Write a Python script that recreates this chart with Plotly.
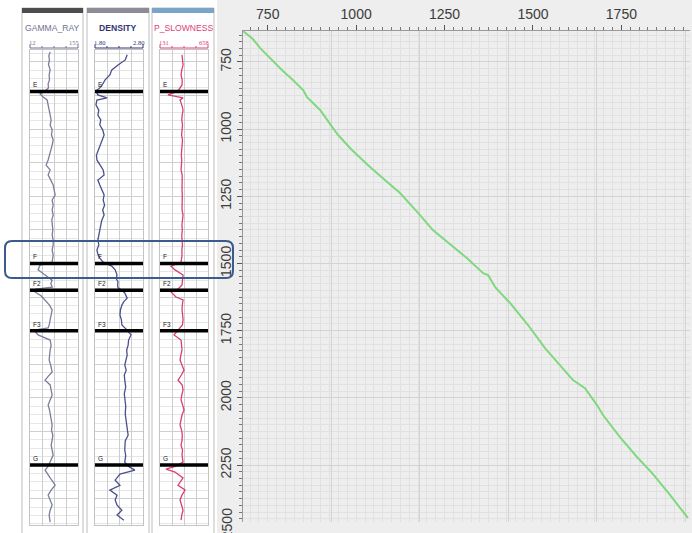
import plotly.graph_objects as go

W, H = 692, 533

# ---------------- data ----------------
# main curve (time vs depth)
curve_x = [680, 708, 728, 790, 821, 850, 861, 898, 932, 949, 988, 1033, 1082, 1124, 1175, 1217,
           1313, 1359, 1373, 1381, 1393, 1435, 1486, 1534, 1613, 1647, 1681, 1698, 1746, 1794,
           1837, 1888, 1938]
curve_y = [635, 665, 698, 780, 817, 855, 881, 929, 992, 1022, 1078, 1134, 1190, 1238, 1312, 1376,
           1480, 1536, 1543, 1562, 1588, 1647, 1729, 1815, 1934, 1964, 2027, 2064, 2146, 2220,
           2280, 2362, 2447]
x_range = [680, 1944]
y_range = [2462, 635]
extra_y_label = 2500

# logs
gr_depth = [713, 728, 743, 760, 780, 798, 817, 832, 847, 858, 869, 881, 892, 910, 929, 948, 966,
            985, 1003, 1022, 1041, 1060, 1078, 1097, 1115, 1134, 1152, 1171, 1190, 1208, 1227,
            1245, 1264, 1283, 1301, 1320, 1338, 1357, 1376, 1394, 1413, 1431, 1450, 1469, 1495,
            1506, 1524, 1543, 1562, 1575, 1588, 1595, 1606, 1620, 1636, 1655, 1673, 1692, 1710,
            1725, 1740, 1748, 1766, 1785, 1804, 1822, 1841, 1859, 1880, 1904, 1920, 1934, 1952,
            1971, 1990, 2008, 2027, 2045, 2064, 2083, 2101, 2120, 2139, 2157, 2176, 2194, 2213,
            2239, 2254, 2269, 2284, 2298, 2312, 2325, 2343, 2362, 2380, 2399, 2418, 2436, 2462]
gr_value = [72, 68, 70, 67, 72, 69, 70, 66, 67, 57, 42, 51, 63, 66, 69, 72, 75,
            72, 78, 76, 81, 78, 75, 70, 66, 60, 72, 66, 74, 81, 84,
            87, 78, 81, 78, 81, 77, 78, 80, 78, 81, 81, 78, 81, 78,
            42, 36, 57, 78, 74, 78, 30, 27, 45, 57, 70, 78, 74, 72,
            70, 66, 24, 36, 72, 75, 72, 70, 69, 74, 78, 66, 57, 72,
            75, 78, 72, 66, 70, 72, 75, 78, 76, 80, 78, 75, 78, 81,
            72, 66, 57, 66, 72, 80, 87, 75, 66, 72, 78, 72, 69, 72]

den_depth = [724, 743, 762, 780, 799, 817, 836, 847, 858, 873, 884, 892, 910, 930, 948, 966, 985,
             1003, 1022, 1041, 1060, 1078, 1097, 1115, 1134, 1152, 1171, 1190, 1208, 1227, 1245,
             1264, 1283, 1301, 1320, 1340, 1357, 1376, 1394, 1413, 1431, 1450, 1466, 1480,
             1495, 1510, 1524, 1543, 1556, 1569, 1580, 1591, 1595, 1610, 1629, 1642, 1655, 1673,
             1692, 1710, 1729, 1748, 1766, 1785, 1804, 1822, 1841, 1860, 1878, 1897, 1915, 1934,
             1960, 1985, 2008, 2030, 2060, 2083, 2110, 2139, 2160, 2194, 2215, 2239, 2254, 2269,
             2284, 2298, 2306, 2325, 2343, 2362, 2380, 2399, 2418, 2436, 2455]
den_value = [2.47, 2.43, 2.28, 2.15, 2.11, 2.01, 1.95, 1.90, 1.82, 1.86, 2.05, 1.84, 1.82, 1.88,
             1.86, 1.92, 1.90, 1.96, 1.99, 1.95, 1.90, 1.86, 1.83, 1.84, 1.90, 1.97, 1.99, 1.86,
             1.90, 1.95, 1.99, 1.97, 2.00, 1.96, 1.99, 1.94, 1.92, 1.90, 1.88, 1.86, 1.88, 1.84,
             1.86, 1.90, 1.97, 2.15, 2.22, 2.26, 2.24, 2.28, 2.27, 2.28, 2.32, 2.42, 2.47, 2.40,
             2.36, 2.33, 2.32, 2.35, 2.36, 2.47, 2.55, 2.50, 2.49, 2.46, 2.47, 2.44, 2.42, 2.45,
             2.41, 2.42, 2.44, 2.41, 2.42, 2.44, 2.43, 2.45, 2.46, 2.49, 2.43, 2.42, 2.44, 2.42,
             2.49, 2.63, 2.32, 2.25, 2.22, 2.32, 2.11, 2.26, 2.22, 2.26, 2.36, 2.26, 2.40]

ps_depth = [724, 743, 762, 780, 799, 818, 836, 858, 873, 884, 892, 910, 929, 948, 966, 985, 1003,
            1022, 1041, 1060, 1078, 1097, 1115, 1134, 1152, 1171, 1190, 1208, 1227, 1245, 1264,
            1283, 1301, 1320, 1340, 1357, 1376, 1394, 1413, 1431, 1450, 1469, 1495, 1510, 1524,
            1543, 1562, 1580, 1595, 1606, 1625, 1636, 1655, 1673, 1692, 1710, 1729, 1748, 1766,
            1785, 1804, 1822, 1841, 1859, 1878, 1897, 1915, 1934, 1952, 1971, 1990, 2008, 2027,
            2045, 2064, 2083, 2101, 2120, 2139, 2157, 2176, 2194, 2213, 2239, 2254, 2265, 2276,
            2298, 2312, 2325, 2343, 2362, 2380, 2399, 2418, 2436, 2455]
ps_value = [373, 380, 384, 370, 362, 375, 373, 329, 219, 384, 351, 370, 384, 375, 370, 378, 373,
            368, 378, 372, 373, 365, 370, 362, 362, 375, 373, 368, 373, 376, 373,
            369, 373, 384, 375, 372, 376, 370, 373, 378, 371, 373, 362, 252, 296,
            384, 378, 373, 329, 252, 307, 384, 376, 373, 380, 384, 377, 329, 285,
            362, 370, 373, 360, 351, 372, 395, 366, 329, 375, 384, 370, 362, 380,
            395, 372, 364, 351, 368, 376, 373, 362, 378, 373, 384, 307, 197, 296,
            384, 360, 329, 406, 372, 351, 368, 384, 370, 362]

track_names = ["GAMMA_RAY", "DENSITY", "P_SLOWNESS"]
track_min = [12, 1.80, 131]
track_max = [155, 2.80, 658]
track_min_label = ["12", "1.80", "131"]
track_max_label = ["155", "2.80", "658"]
track_y_range = [2473, 706]

tops_names = ["E", "F", "F2", "F3", "G"]
tops_depth = [860, 1500, 1600, 1750, 2250]

# ---------------- styling ----------------
def X(px):
    return px / W

def Y(py):
    return 1 - py / H

curve_colors = ["#7a7f99", "#4b4f8e", "#d8406e"]
title_colors = ["#6f7290", "#2f3573", "#e0407a"]
bar_colors = ["#4d4d4d", "#8c8c96", "#7aa5c8"]
panel_outer = [(22, 83), (87, 149), (152, 214)]
panel_inner = [(30, 78), (95, 143), (160, 208)]

fig = go.Figure()

# main curve
fig.add_trace(go.Scatter(x=curve_x, y=curve_y, mode="lines",
                         line=dict(color="#7fd87f", width=2), xaxis="x", yaxis="y",
                         hoverinfo="skip"))
# dummy for label axis
fig.add_trace(go.Scatter(x=[None], y=[None], xaxis="x2", yaxis="y", hoverinfo="skip"))

logs = [(gr_value, gr_depth), (den_value, den_depth), (ps_value, ps_depth)]
for i, (v, d) in enumerate(logs):
    n = i + 3
    fig.add_trace(go.Scatter(x=v, y=d, mode="lines",
                             line=dict(color=curve_colors[i], width=1.3),
                             xaxis=f"x{n}", yaxis=f"y{n}", hoverinfo="skip"))

shapes = []
annotations = []

# right grey region
shapes.append(dict(type="rect", xref="paper", yref="paper", x0=X(217), x1=X(692), y0=Y(533), y1=Y(0),
                   fillcolor="#eeeeee", line=dict(width=0), layer="below"))

layout = dict(
    width=W, height=H, margin=dict(l=0, r=0, t=0, b=0),
    paper_bgcolor="white", plot_bgcolor="rgba(0,0,0,0)", showlegend=False,
    xaxis=dict(domain=[X(243), X(690)], range=x_range, anchor="y", showticklabels=False,
               showgrid=True, tick0=680, dtick=250, gridcolor="#d3d3d3", gridwidth=1,
               minor=dict(dtick=25, showgrid=True, gridcolor="#e1e1e1"),
               zeroline=False, showline=False, ticks=""),
    xaxis2=dict(overlaying="x", side="top", anchor="y", range=x_range, tick0=0, dtick=250,
                ticks="outside", ticklen=5, tickcolor="#555555", showgrid=False, zeroline=False,
                minor=dict(dtick=25, ticks="outside", ticklen=3, tickcolor="#777777", showgrid=False),
                showline=True, linecolor="#999999",
                tickfont=dict(family="Liberation Sans", size=14, color="#3c3c3c")),
    yaxis=dict(domain=[Y(522), Y(31)], range=y_range, anchor="x", side="left", tick0=0, dtick=250,
               tickangle=-90, ticks="outside", ticklen=5, tickcolor="#555555",
               minor=dict(dtick=25, ticks="outside", ticklen=3, tickcolor="#777777",
                          showgrid=True, gridcolor="#e1e1e1"),
               showgrid=True, gridcolor="#d3d3d3", zeroline=False,
               showline=True, linecolor="#999999",
               tickfont=dict(family="Liberation Sans", size=14, color="#3c3c3c")),
)

for i in range(3):
    n = i + 3
    lo, hi = panel_inner[i]
    layout[f"xaxis{n}"] = dict(domain=[X(lo), X(hi)], range=[track_min[i], track_max[i]],
                               anchor=f"y{n}", showticklabels=False, ticks="",
                               tick0=track_min[i], dtick=(track_max[i] - track_min[i]) / 4,
                               showgrid=True, gridcolor="#cdcdcd", zeroline=False,
                               showline=True, mirror=True, linecolor="#c4c4c4")
    layout[f"yaxis{n}"] = dict(domain=[Y(525), Y(50)], range=track_y_range, anchor=f"x{n}",
                               showticklabels=False, ticks="", dtick=125,
                               showgrid=True, gridcolor="#cfcfcf", zeroline=False,
                               minor=dict(dtick=31.25, showgrid=True, gridcolor="#e6e6e6"),
                               showline=True, mirror=True, linecolor="#c4c4c4")
    # panel frame
    ox0, ox1 = panel_outer[i]
    shapes.append(dict(type="rect", xref="paper", yref="paper", x0=X(ox0), x1=X(ox1),
                       y0=Y(540), y1=Y(8), line=dict(color="#bdbdbd", width=1),
                       fillcolor="white", layer="below"))
    shapes.append(dict(type="rect", xref="paper", yref="paper", x0=X(ox0), x1=X(ox1),
                       y0=Y(13), y1=Y(8), line=dict(width=0), fillcolor=bar_colors[i]))
    # title
    annotations.append(dict(xref="paper", yref="paper", x=X((ox0 + ox1) / 2), y=Y(28),
                            text=f"<b>{track_names[i]}</b>" if i == 1 else track_names[i],
                            showarrow=False, xanchor="center", yanchor="middle",
                            font=dict(family="Liberation Sans", size=8.6, color=title_colors[i])))
    # scale labels
    annotations.append(dict(xref="paper", yref="paper", x=X(lo - 3), y=Y(42),
                            text=track_min_label[i], showarrow=False, xanchor="left",
                            yanchor="middle",
                            font=dict(family="Liberation Serif", size=6.5, color=title_colors[i])))
    annotations.append(dict(xref="paper", yref="paper", x=X(hi + 3), y=Y(42),
                            text=track_max_label[i], showarrow=False, xanchor="right",
                            yanchor="middle",
                            font=dict(family="Liberation Serif", size=6.5, color=title_colors[i])))
    # scale bracket
    shapes.append(dict(type="line", xref="paper", yref="paper", x0=X(lo), x1=X(hi),
                       y0=Y(48), y1=Y(48), line=dict(color=title_colors[i], width=1)))
    for k in range(5):
        fx = lo + (hi - lo) * k / 4
        top = 44.5 if k in (0, 4) else 46
        shapes.append(dict(type="line", xref="paper", yref="paper", x0=X(fx), x1=X(fx),
                           y0=Y(48), y1=Y(top), line=dict(color=title_colors[i], width=1)))
    # formation tops
    for name, dep in zip(tops_names, tops_depth):
        shapes.append(dict(type="line", xref=f"x{n} domain", yref=f"y{n}", x0=0, x1=1,
                           y0=dep, y1=dep, line=dict(color="black", width=3.5)))
        annotations.append(dict(xref=f"x{n} domain", yref=f"y{n}", x=0.02, y=dep,
                                text=name, showarrow=False, xanchor="left", yanchor="bottom",
                                yshift=1, font=dict(family="Liberation Sans", size=6.5,
                                                    color="#222222")))

# 2500 label partially visible below the plot
py_2500 = 31 + (extra_y_label - y_range[1]) / (y_range[0] - y_range[1]) * (522 - 31)
annotations.append(dict(xref="paper", yref="paper", x=X(227), y=Y(py_2500), text=str(extra_y_label),
                        textangle=-90, showarrow=False, xanchor="center", yanchor="middle",
                        yshift=8,
                        font=dict(family="Liberation Sans", size=14, color="#3c3c3c")))

# highlight rounded box
x0, x1, y0, y1, r = 5, 233, 241, 278, 7
path = (f"M {X(x0 + r)} {Y(y0)} L {X(x1 - r)} {Y(y0)} Q {X(x1)} {Y(y0)} {X(x1)} {Y(y0 + r)} "
        f"L {X(x1)} {Y(y1 - r)} Q {X(x1)} {Y(y1)} {X(x1 - r)} {Y(y1)} "
        f"L {X(x0 + r)} {Y(y1)} Q {X(x0)} {Y(y1)} {X(x0)} {Y(y1 - r)} "
        f"L {X(x0)} {Y(y0 + r)} Q {X(x0)} {Y(y0)} {X(x0 + r)} {Y(y0)} Z")
shapes.append(dict(type="path", xref="paper", yref="paper", path=path,
                   line=dict(color="#3b5b8c", width=2), layer="above"))

layout["shapes"] = shapes
layout["annotations"] = annotations
fig.update_layout(**layout)

fig.write_html("out.html", config={"displayModeBar": False},
               post_script="document.body.style.margin='0';document.body.style.overflow='hidden';")
